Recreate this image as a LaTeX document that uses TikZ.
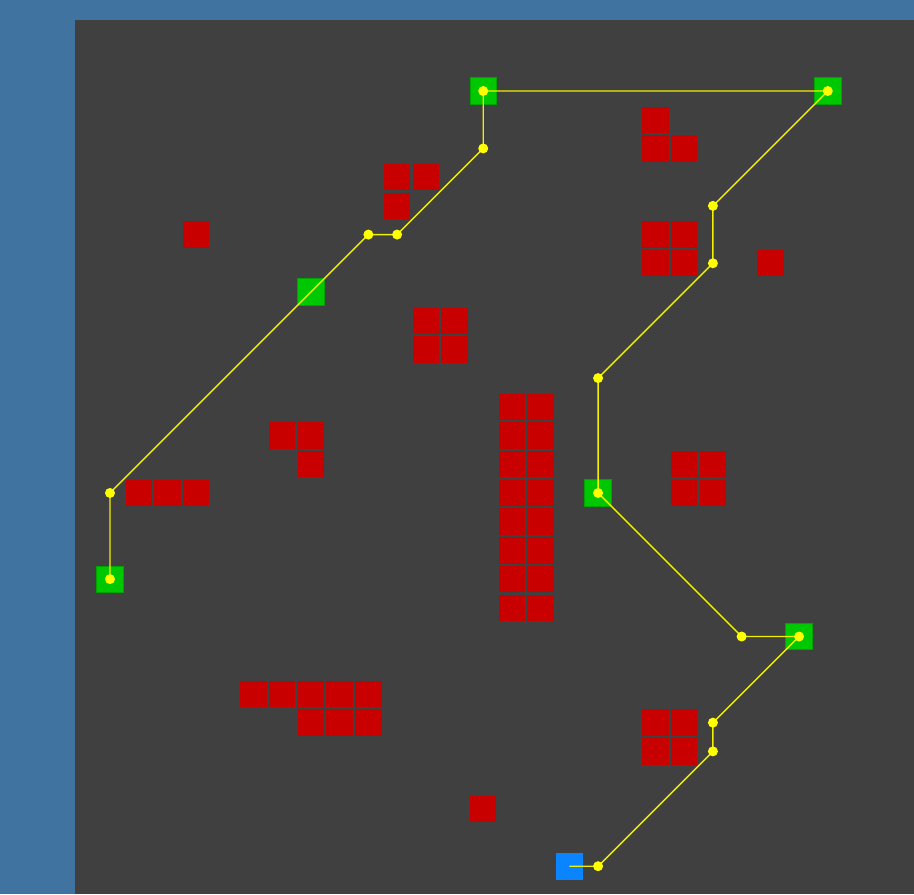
\documentclass[tikz,border=0pt]{standalone}
\usetikzlibrary{positioning}
\definecolor{gridbg}{HTML}{4173A1}
\definecolor{gridfloor}{HTML}{404040}
\definecolor{gridwall}{HTML}{C80000}
\definecolor{gridgoal}{HTML}{00C800}
\definecolor{gridgoalrim}{HTML}{00A400}
\definecolor{gridstart}{HTML}{0A84FF}
\definecolor{gridpath}{HTML}{F0F000}
\definecolor{griddot}{HTML}{FFFF00}
\tikzset{
  wallcell/.style={fill=gridwall,draw=none,rectangle,minimum size=13.2pt,inner sep=0pt},
  goalcell/.style={fill=gridgoal,draw=gridgoalrim,line width=0.4pt,rectangle,
    minimum size=13.2pt,inner sep=0pt},
  startcell/.style={fill=gridstart,draw=none,rectangle,minimum size=13.4pt,inner sep=0pt},
  pathline/.style={draw=gridpath,line width=0.7pt,line join=round},
  waypoint/.style={fill=griddot,draw=none,circle,minimum size=5pt,inner sep=0pt},
}

\begin{document}
\begin{tikzpicture}[x=14.355pt,y=-14.355pt]
        \fill[gridbg] (-3.831,-3.170) rectangle (28.004,27.969);
        \fill[gridfloor] (-1.219,-2.473) rectangle (28.004,27.969);
        % obstacles
        \foreach \c/\r in {19/1,19/2,20/2,10/3,11/3,10/4,3/5,19/5,20/5,19/6,20/6,23/6,
            11/8,12/8,11/9,12/9,6/12,7/12,7/13,20/13,21/13,20/14,21/14,1/14,2/14,3/14,
            5/21,6/21,7/21,8/21,9/21,7/22,8/22,9/22,19/22,20/22,19/23,20/23,13/25}
          {\node[wallcell] (w-\c-\r) at (\c,\r) {};}
        \foreach \r in {11,...,18}
          {\node[wallcell] (wa-\r) at (14,\r) {};
           \node[wallcell] (wb-\r) at (15,\r) {};}
        % goals and start
        \foreach \i/\c/\r in {1/13/0,2/25/0,3/7/7,4/17/14,5/0/17,6/24/19}
          {\node[goalcell] (g\i) at (\c,\r) {};}
        \node[startcell] (s) at (16,27) {};
        % route
        \foreach \i/\c/\r in {1/17/27,2/21/23,3/21/22,4/24/19,5/22/19,6/17/14,7/17/10,8/21/6,
            9/21/4,10/25/0,11/13/0,12/13/2,13/10/5,14/9/5,15/0/14,16/0/17}
          {\coordinate (p\i) at (\c,\r);}
        \draw[pathline] (s.center) -- (p1) -- (p2) -- (p3) -- (p4) -- (p5) -- (p6) -- (p7)
          -- (p8) -- (p9) -- (p10) -- (p11) -- (p12) -- (p13) -- (p14) -- (p15) -- (p16);
        \foreach \i in {1,...,16}
          {\node[waypoint] (d\i) at (p\i) {};}
        \path[use as bounding box] (-3.831,-3.170) rectangle (28.004,27.969);
      \end{tikzpicture}
\end{document}
